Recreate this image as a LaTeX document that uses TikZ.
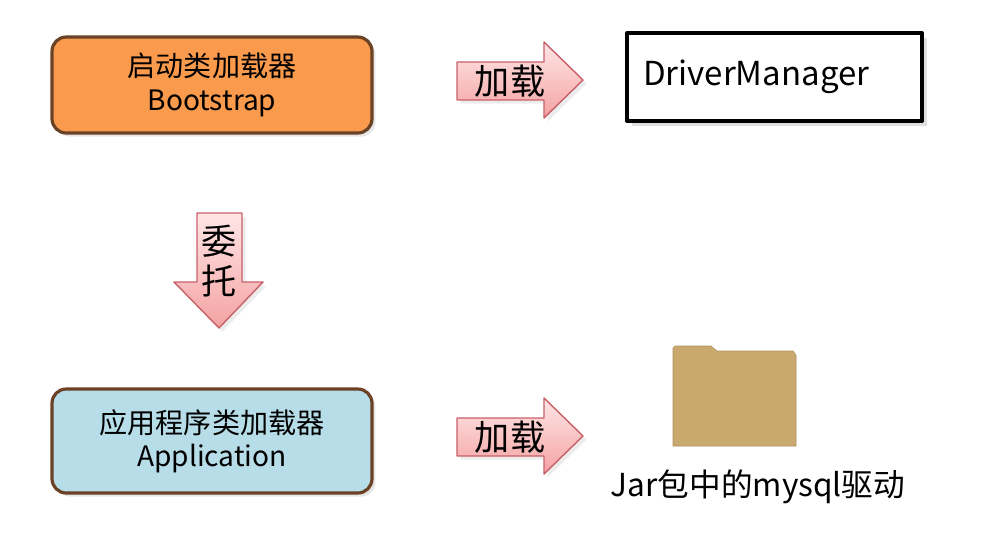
\documentclass[tikz,border=0pt]{standalone}
\usepackage{fontspec}
\setmainfont{Noto Sans CJK SC}
\usepackage{tikz}
\usetikzlibrary{shadows}
\definecolor{loaderorange}{HTML}{F99A4C}
\definecolor{loaderblue}{HTML}{B6DDE8}
\definecolor{loaderedge}{HTML}{6B4226}
\definecolor{arrowedge}{HTML}{C8606A}
\definecolor{arrowtop}{HTML}{FFE6E6}
\definecolor{arrowbot}{HTML}{F4A2A2}
\definecolor{foldertan}{HTML}{C9A96E}

\begin{document}
\begin{tikzpicture}[line cap=round,line join=round,x=0.02cm,y=0.02cm,
  loader/.style={draw=loaderedge,line width=1.8pt,rounded corners=8pt,align=center,
    minimum width=6.4cm,font=\fontsize{16}{19}\selectfont,
    drop shadow={shadow xshift=2pt,shadow yshift=-2pt,opacity=0.2}},
  pinkarrow/.style={draw=arrowedge,line width=0.8pt,top color=arrowtop,bottom color=arrowbot,
    drop shadow={shadow xshift=2pt,shadow yshift=-2pt,opacity=0.15}},
  arrowtext/.style={font=\fontsize{20}{23}\selectfont,align=center,inner sep=0pt}]
\useasboundingbox (0,0) rectangle (998,-539);

% class loaders
\node[loader,fill=loaderorange,minimum height=1.92cm] (boot) at (212,-85) {启动类加载器\\Bootstrap};
\node[loader,fill=loaderblue,minimum height=2.08cm] (app) at (212,-441) {应用程序类加载器\\Application};

% DriverManager
\node[draw=black,fill=white,line width=2.3pt,minimum height=1.76cm,text width=5.26cm,inner xsep=0.32cm,
  align=left,font=\fontsize{18.8}{22}\selectfont,
  drop shadow={shadow xshift=3pt,shadow yshift=-3pt,opacity=0.25}] (dm) at (774.5,-77) {DriverManager};

% arrows
\draw[pinkarrow] (457,-62) -- (544,-62) -- (544,-42) -- (583,-80) -- (544,-118) -- (544,-100) -- (457,-100) -- cycle;
\node[arrowtext] (loadtop) at (510,-81) {加载};

\draw[pinkarrow] (457,-418) -- (544,-418) -- (544,-398) -- (583,-436) -- (544,-474) -- (544,-456) -- (457,-456) -- cycle;
\node[arrowtext] (loadbottom) at (510,-437) {加载};

\draw[pinkarrow] (197,-213) -- (242,-213) -- (242,-282) -- (263,-282) -- (219,-328) -- (174,-282) -- (197,-282) -- cycle;
\node[arrowtext] (delegate) at (219,-261) {委\\托};

% jar folder
\draw[fill=foldertan,draw=foldertan!85!black,line width=0.3pt] (673,-446) -- (673,-348) -- (675,-346) -- (711,-346)
  -- (717,-351) -- (793,-351) -- (796,-355) -- (796,-446) -- cycle;
\node[font=\fontsize{18}{21}\selectfont] (jar) at (758,-487) {Jar包中的mysql驱动};
\end{tikzpicture}
\end{document}
